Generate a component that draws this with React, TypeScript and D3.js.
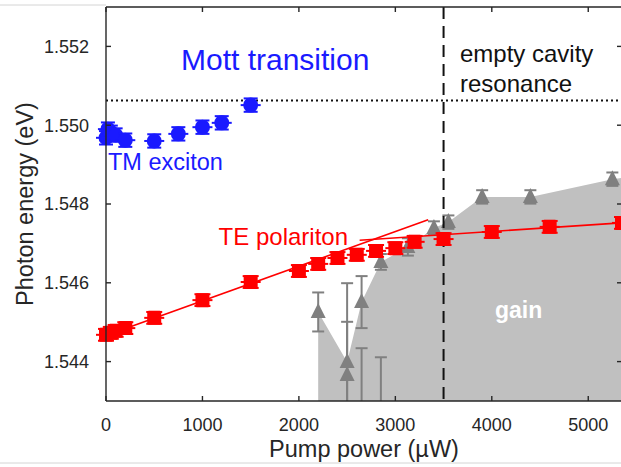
import React from 'react';
import * as d3 from 'd3';

// ---- data ----
const tmPower = [0, 20, 50, 100, 200, 500, 750, 1000, 1200, 1500];
const tmEnergy = [1.54968, 1.5499, 1.54982, 1.54975, 1.54962, 1.5496, 1.54978, 1.54995, 1.55006, 1.55051];
const tmErr = [0.00017, 0.00017, 0.00017, 0.00017, 0.00017, 0.00017, 0.00017, 0.00017, 0.00017, 0.00017];

const tePower = [0, 50, 100, 200, 500, 1000, 1500, 2000, 2200, 2400, 2600, 2800, 3000, 3200, 3500, 4000, 4600, 5350];
const teEnergy = [1.54468, 1.54473, 1.54478, 1.54485, 1.54511, 1.54556, 1.54602, 1.5463, 1.54648, 1.54663, 1.54671, 1.54681, 1.54688, 1.54704, 1.54711, 1.54729, 1.54742, 1.54752];
const teErr = [0.00015, 0.00015, 0.00015, 0.00015, 0.00015, 0.00015, 0.00015, 0.00015, 0.00015, 0.00015, 0.00015, 0.00015, 0.00015, 0.00015, 0.00015, 0.00015, 0.00015, 0.00015];

const gainPower = [2200, 2500, 2500, 2650, 2650, 2850, 2850, 3130, 3400, 3550, 3900, 4400, 5250];
const gainEnergy = [1.54526, 1.54399, 1.54366, 1.54551, 1.5428, 1.54653, 1.5428, 1.54691, 1.54739, 1.54754, 1.54818, 1.54818, 1.54863];
const gainErr = [0.000495, 0.002, 0.00135, 0.00066, 0.00154, 0.0002, 0.00131, 0.00022, 0.00017, 0.00017, 0.00017, 0.00017, 0.00017];

const areaPower = [2200, 2500, 2650, 2850, 3130, 3400, 3550, 3900, 4400, 5250, 5400];
const areaEdge = [1.54526, 1.54399, 1.54551, 1.54653, 1.54691, 1.54739, 1.54754, 1.54818, 1.54818, 1.54863, 1.54868];

const lowFitPower = [0, 3340];
const lowFitEnergy = [1.54466, 1.5476];
const highFitPower = [2630, 5400];
const highFitEnergy = [1.54708, 1.54753];

const cavityEnergy = 1.55063;
const mottPower = 3500;

const xTicks = [0, 1000, 2000, 3000, 4000, 5000];
const yTicks = [1.544, 1.546, 1.548, 1.55, 1.552];

// ---- layout ----
const W = 621;
const H = 467;
const L = 106, R = 622, T = 7, B = 401;
const FONT = '"Liberation Sans", Arial, Helvetica, sans-serif';
const BLUE = '#1a1aff';
const RED = '#ff0000';
const GRAY = '#808080';
const FILL = '#c0c0c0';

export default function App() {
  const x = d3.scaleLinear().domain([0, 5350]).range([L, R]);
  const y = d3.scaleLinear().domain([1.543, 1.553]).range([B, T]);
  const line = d3.line<[number, number]>().x(d => x(d[0])).y(d => y(d[1]));

  const areaPts: [number, number][] = [[areaPower[0], 1.543]];
  areaPower.forEach((p, i) => areaPts.push([p, areaEdge[i]]));
  areaPts.push([areaPower[areaPower.length - 1], 1.543]);
  const areaPath = line(areaPts) + 'Z';

  const tri = (cx: number, cy: number, s: number) =>
    `M${cx},${cy - s * 0.6}L${cx + s / 2},${cy + s * 0.4}L${cx - s / 2},${cy + s * 0.4}Z`;

  return (
    <svg width={W} height={H} style={{ position: 'absolute', left: 0, top: 0, background: '#fff' }}
      fontFamily={FONT}>
      <defs>
        <clipPath id="plotclip"><rect x={L} y={T} width={R - L} height={B - T} /></clipPath>
      </defs>
      <line x1={0} x2={L} y1={5} y2={5} stroke="#d4d4d4" strokeWidth={1} />
      <line x1={0} x2={W} y1={463} y2={463} stroke="#d4d4d4" strokeWidth={1} />

      {/* gain area and gray points */}
      <g clipPath="url(#plotclip)">
        <path d={areaPath} fill={FILL} stroke="none" />
        {gainPower.map((p, i) => {
          const cx = x(p);
          const y1 = y(gainEnergy[i] + gainErr[i]);
          const y2 = y(gainEnergy[i] - gainErr[i]);
          return (
            <g key={'g' + i} stroke={GRAY} strokeWidth={2}>
              <line x1={cx} x2={cx} y1={y1} y2={y2} />
              <line x1={cx - 6} x2={cx + 6} y1={y1} y2={y1} />
              <line x1={cx - 6} x2={cx + 6} y1={y2} y2={y2} />
              <path d={tri(cx, y(gainEnergy[i]), 15)} fill={GRAY} stroke="none" />
            </g>
          );
        })}
      </g>

      {/* reference lines */}
      <line x1={L} x2={R} y1={y(cavityEnergy)} y2={y(cavityEnergy)} stroke="#111" strokeWidth={2} strokeDasharray="2,3" />
      <line x1={x(mottPower)} x2={x(mottPower)} y1={T} y2={B} stroke="#111" strokeWidth={2} strokeDasharray="12,7" />

      {/* TE fit lines */}
      <path d={line(lowFitPower.map((p, i) => [p, lowFitEnergy[i]]) as [number, number][]) || ''} stroke={RED} strokeWidth={1.6} fill="none" />
      <path d={line(highFitPower.map((p, i) => [p, highFitEnergy[i]]) as [number, number][]) || ''} stroke={RED} strokeWidth={1.6} fill="none" />

      {/* TE polariton squares */}
      {tePower.map((p, i) => {
        const cx = x(p);
        const cy = y(teEnergy[i]);
        const y1 = y(teEnergy[i] + teErr[i]);
        const y2 = y(teEnergy[i] - teErr[i]);
        return (
          <g key={'t' + i} stroke={RED} strokeWidth={2}>
            <line x1={cx - 10} x2={cx + 10} y1={cy} y2={cy} />
            <line x1={cx - 8} x2={cx + 8} y1={y1} y2={y1} />
            <line x1={cx - 8} x2={cx + 8} y1={y2} y2={y2} />
            <rect x={cx - 7} y={cy - 7} width={14} height={14} rx={1.5} fill={RED} stroke="none" />
          </g>
        );
      })}

      {/* TM exciton circles */}
      {tmPower.map((p, i) => {
        const cx = x(p);
        const cy = y(tmEnergy[i]);
        const y1 = y(tmEnergy[i] + tmErr[i]);
        const y2 = y(tmEnergy[i] - tmErr[i]);
        return (
          <g key={'m' + i} stroke={BLUE} strokeWidth={2}>
            <line x1={cx - 10} x2={cx + 10} y1={cy} y2={cy} />
            <line x1={cx - 7} x2={cx + 7} y1={y1} y2={y1} />
            <line x1={cx - 7} x2={cx + 7} y1={y2} y2={y2} />
            <circle cx={cx} cy={cy} r={7.5} fill={BLUE} stroke="none" />
          </g>
        );
      })}

      {/* axes box */}
      <g stroke="#262626" strokeWidth={1.4} fill="none">
        <line x1={L} x2={L} y1={T} y2={B} />
        <line x1={L} x2={R} y1={B} y2={B} />
        <line x1={L} x2={R} y1={T} y2={T} />
        <line x1={R} x2={R} y1={T} y2={B} />
        {xTicks.map(t => (
          <g key={'xt' + t}>
            <line x1={x(t)} x2={x(t)} y1={B} y2={B - 5} />
            <line x1={x(t)} x2={x(t)} y1={T} y2={T + 5} />
          </g>
        ))}
        {yTicks.map(t => (
          <g key={'yt' + t}>
            <line x1={L} x2={L + 5} y1={y(t)} y2={y(t)} />
            <line x1={R} x2={R - 5} y1={y(t)} y2={y(t)} />
          </g>
        ))}
      </g>
      {xTicks.map(t => (
        <text key={'xl' + t} x={x(t)} y={431} fontSize={18} textAnchor="middle" fill="#262626">{t}</text>
      ))}
      {yTicks.map(t => (
        <text key={'yl' + t} x={89} y={y(t)} dy="0.35em" fontSize={18} textAnchor="end" fill="#262626">{d3.format('.3f')(t)}</text>
      ))}
      <text x={(L + R) / 2} y={457} fontSize={23.5} textAnchor="middle" fill="#262626">Pump power (µW)</text>
      <text transform={`translate(33,${(T + B) / 2}) rotate(-90)`} fontSize={23.5} textAnchor="middle" fill="#262626">Photon energy (eV)</text>

      {/* annotations */}
      <text x={181} y={70} fontSize={30} fill={BLUE}>Mott transition</text>
      <text x={460} y={62} fontSize={24} fill="#111">empty cavity</text>
      <text x={460} y={92} fontSize={24} fill="#111">resonance</text>
      <text x={108} y={170} fontSize={23.5} fill={BLUE}>TM exciton</text>
      <text x={348} y={245} fontSize={24} textAnchor="end" fill={RED}>TE polariton</text>
      <text x={495} y={318} fontSize={23} fontWeight="bold" fill="#fff">gain</text>
    </svg>
  );
}
